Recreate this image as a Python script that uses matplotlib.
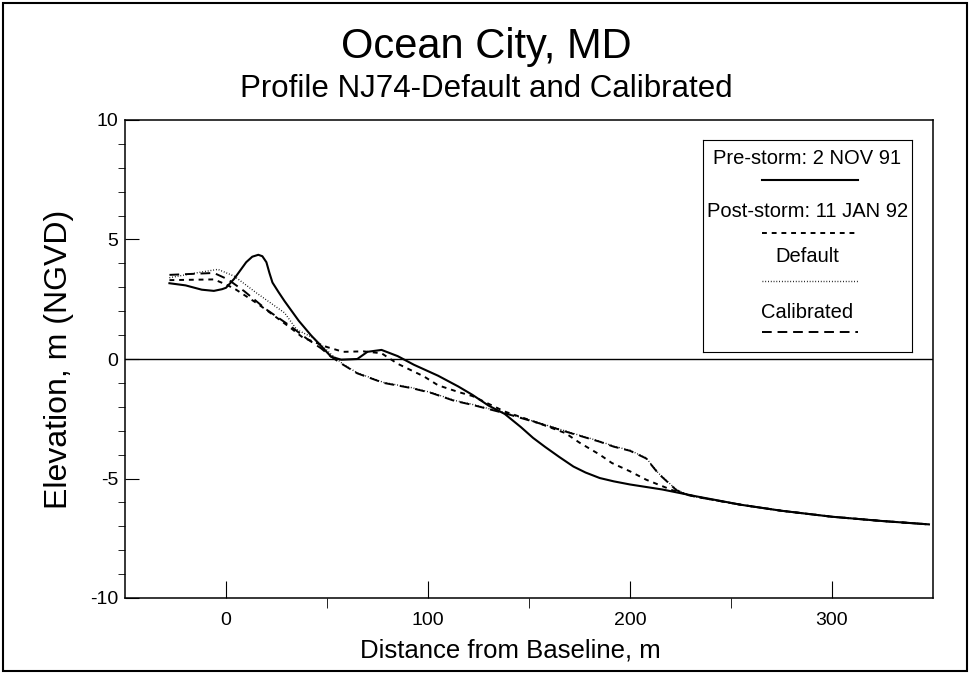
import matplotlib
matplotlib.use('Agg')
import matplotlib.pyplot as plt
from matplotlib.patches import Rectangle
import numpy as np

plt.rcParams['font.family'] = ['Liberation Sans', 'DejaVu Sans']
plt.rcParams['axes.unicode_minus'] = False

# shared offshore tail (all profiles merge past ~230 m)
xTail = [255, 275, 300, 325, 348]
yTail = [-6.1, -6.35, -6.6, -6.78, -6.92]

xPre = [-28, -20, -12, -6, -2, 0, 4, 7, 10, 13, 16, 18, 20, 21.5, 23, 26, 29, 36, 42, 47, 52, 57,
        65, 70, 77, 85, 93, 105, 115, 122, 130, 138, 146, 152, 158, 165, 172, 178, 185, 192, 200,
        216, 233] + xTail
yPre = [3.17, 3.08, 2.9, 2.85, 2.92, 2.98, 3.35, 3.7, 4.05, 4.28, 4.36, 4.3, 4.05, 3.6, 3.2, 2.8, 2.42,
        1.6, 1.0, 0.55, 0.1, -0.03, 0.0, 0.3, 0.38, 0.12, -0.24, -0.7, -1.15, -1.5, -1.95, -2.3, -2.85,
        -3.3, -3.68, -4.1, -4.5, -4.75, -4.98, -5.12, -5.25, -5.46, -5.75] + yTail

xPost = [-28, -6, 0, 5, 15, 20, 28, 32, 38, 44, 50, 58, 68, 77, 85, 98, 105, 115, 122,
         138, 155, 168, 175, 185, 191, 200, 208, 221, 228, 233] + xTail
yPost = [3.3, 3.33, 3.12, 2.9, 2.35, 2.05, 1.55, 1.3, 0.9, 0.7, 0.5, 0.3, 0.32, 0.24, -0.2, -0.73, -1.1,
         -1.38, -1.55, -2.2, -2.69, -3.1, -3.5, -4.0, -4.35, -4.7, -5.05, -5.49, -5.66, -5.77] + yTail

xDef = [-28, -15, -4, 4, 15, 29, 35, 44, 52, 58, 65, 78, 92, 102, 113, 122,
        138, 155, 171, 185, 192, 200, 208, 214, 223, 229, 233] + xTail
yDef = [3.4, 3.6, 3.75, 3.47, 2.77, 1.93, 1.23, 0.85, 0.2, -0.22, -0.58, -0.98, -1.2, -1.41, -1.73, -1.9,
        -2.25, -2.67, -3.09, -3.44, -3.65, -3.82, -4.14, -4.77, -5.47, -5.69, -5.77] + yTail

xCal = [-28, -6, 1, 9, 20, 32, 40, 47, 52, 58, 65, 78, 92, 102, 113, 122,
        138, 155, 171, 185, 192, 200, 208, 214, 223, 229, 233] + xTail
yCal = [3.52, 3.6, 3.33, 2.84, 2.07, 1.37, 0.85, 0.45, 0.1, -0.24, -0.6, -1.0, -1.22, -1.43, -1.75, -1.92,
        -2.27, -2.69, -3.11, -3.46, -3.67, -3.84, -4.16, -4.79, -5.49, -5.7, -5.77] + yTail

legendLabels = ['Pre-storm: 2 NOV 91', 'Post-storm: 11 JAN 92', 'Default', 'Calibrated']

fig = plt.figure(figsize=(9.73, 6.77), dpi=100)
fig.patches.append(Rectangle((3/973, 6/677), 964/973, 668/677, transform=fig.transFigure,
                             fill=False, lw=1.5, ec='black'))

ax = fig.add_axes([125/973, 1 - 598/677, (933 - 125)/973, (598 - 120)/677])

styles = [dict(ls='-', lw=1.5),
          dict(ls=(0, (2.5, 2.5)), lw=1.4),
          dict(ls=(0, (0.6, 1.4)), lw=1.0),
          dict(ls=(0, (5, 3)), lw=1.4)]

ax.plot(xPre, yPre, color='black', **styles[0])
ax.plot(xPost, yPost, color='black', **styles[1])
ax.plot(xCal, yCal, color='black', **styles[3])
ax.plot(xDef, yDef, color='black', **styles[2])
ax.axhline(0, color='black', lw=1.0)

ax.set_xlim(-50, 350)
ax.set_ylim(-10, 10)
ax.set_xticks([0, 100, 200, 300])
ax.set_xticks([50, 150, 250], minor=True)
ax.set_yticks([-10, -5, 0, 5, 10])
ax.set_yticks(np.arange(-9, 10, 1), minor=True)
ax.tick_params(direction='in', labelsize=14, top=False, right=False)
ax.tick_params(axis='x', which='major', length=12, pad=10)
ax.tick_params(axis='x', which='minor', length=7)
ax.tick_params(axis='y', which='major', length=10, pad=5)
ax.tick_params(axis='y', which='minor', length=5)
for s in ax.spines.values():
    s.set_linewidth(1.1)

ax.set_xlabel('Distance from Baseline, m', fontsize=18.5)
ax.xaxis.set_label_coords((510 - 125) / 808, -0.085)
ax.set_ylabel('Elevation, m (NGVD)', fontsize=23)
ax.yaxis.set_label_coords(-0.063, 0.5)

fig.text(0.5, 1 - 47/677, 'Ocean City, MD', ha='center', va='center', fontsize=30)
fig.text(0.5, 1 - 89/677, 'Profile NJ74-Default and Calibrated', ha='center', va='center', fontsize=22.5)

# legend drawn as its own box: label text with line sample below
lg = fig.add_axes([703/973, 1 - 352/677, (912 - 703)/973, (352 - 140)/677])
lg.set_xlim(0, 1)
lg.set_ylim(352, 140)
lg.set_xticks([])
lg.set_yticks([])
textY = [158, 212, 257, 313]
lineY = [180, 233, 281, 332]
for lab, ty, ly, st in zip(legendLabels, textY, lineY, styles):
    lg.text(0.5, ty, lab, ha='center', va='center', fontsize=14.5)
    lg.plot([0.28, 0.74], [ly, ly], color='black', **st)

fig.savefig('out.png', dpi=100)
